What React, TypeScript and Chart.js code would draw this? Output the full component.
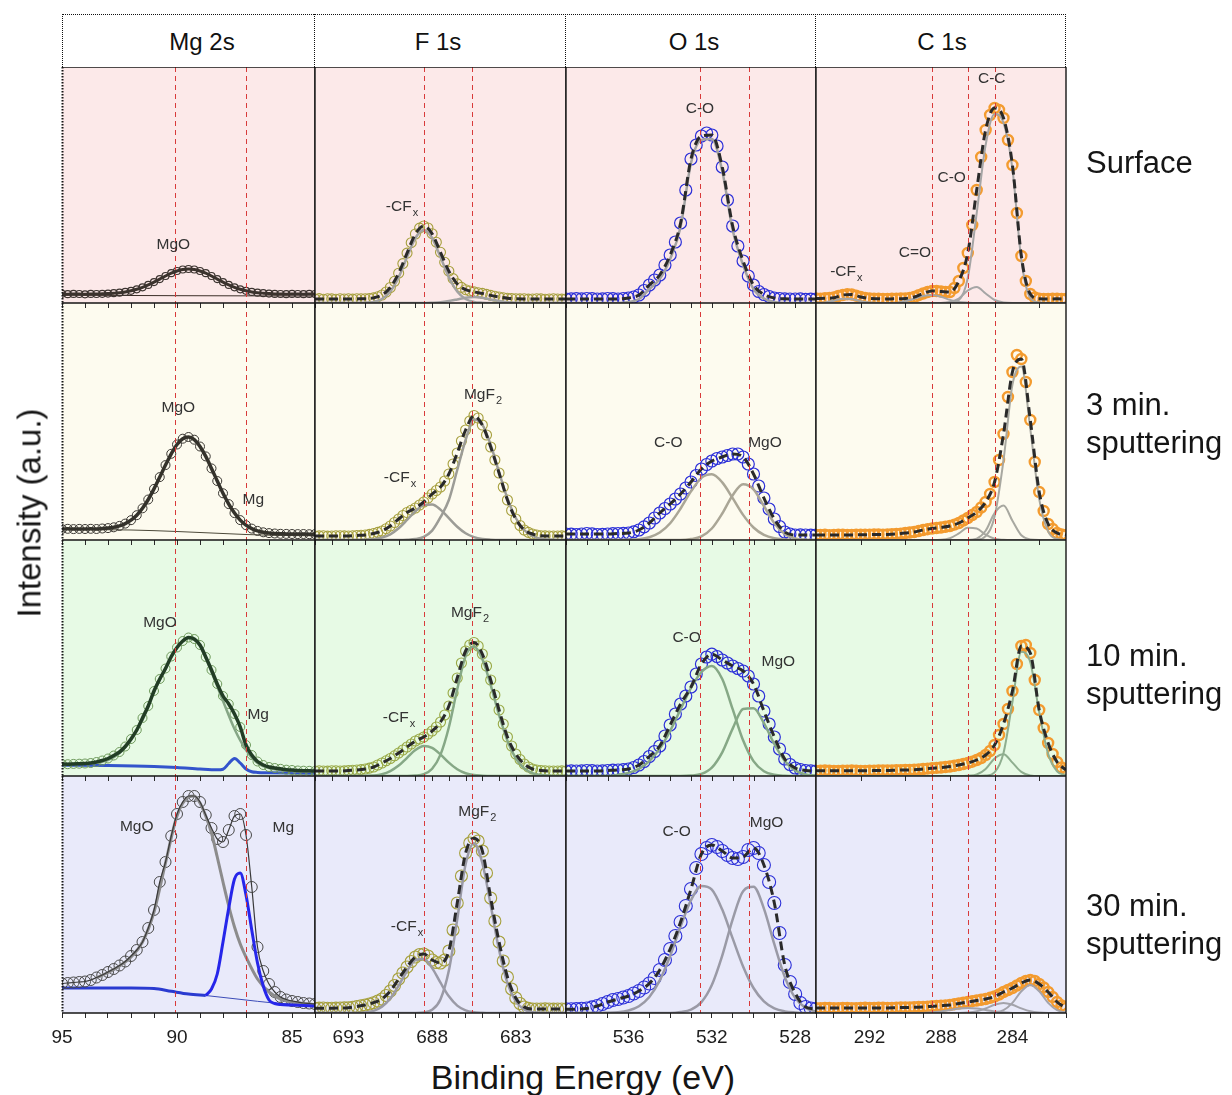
import React, { useEffect, useRef } from 'react';
import { Chart, registerables } from 'chart.js';

Chart.register(...registerables);

const FONT = '"Liberation Sans", Arial, Helvetica, sans-serif';

// ---------------------------------------------------------------------------
// Binding-energy grids (eV): measured points (fine) and fitted curves (coarse)
// ---------------------------------------------------------------------------
const MG2S_BE = [95, 94.75, 94.5, 94.25, 94, 93.75, 93.5, 93.25, 93, 92.75, 92.5, 92.25, 92, 91.75, 91.5, 91.25, 91, 90.75, 90.5, 90.25, 90, 89.75, 89.5, 89.25, 89, 88.75, 88.5, 88.25, 88, 87.75, 87.5, 87.25, 87, 86.75, 86.5, 86.25, 86, 85.75, 85.5, 85.25, 85, 84.75, 84.5, 84.25, 84];
const F1S_BE = [695, 694.75, 694.5, 694.25, 694, 693.75, 693.5, 693.25, 693, 692.75, 692.5, 692.25, 692, 691.75, 691.5, 691.25, 691, 690.75, 690.5, 690.25, 690, 689.75, 689.5, 689.25, 689, 688.75, 688.5, 688.25, 688, 687.75, 687.5, 687.25, 687, 686.75, 686.5, 686.25, 686, 685.75, 685.5, 685.25, 685, 684.75, 684.5, 684.25, 684, 683.75, 683.5, 683.25, 683, 682.75, 682.5, 682.25, 682, 681.75, 681.5, 681.25, 681, 680.75, 680.5, 680.25, 680];
const F1S_FIT_BE = [695, 694.5, 694, 693.5, 693, 692.5, 692, 691.5, 691, 690.5, 690, 689.5, 689, 688.5, 688, 687.5, 687, 686.5, 686, 685.5, 685, 684.5, 684, 683.5, 683, 682.5, 682, 681.5, 681, 680.5, 680];
const O1S_BE = [539, 538.75, 538.5, 538.25, 538, 537.75, 537.5, 537.25, 537, 536.75, 536.5, 536.25, 536, 535.75, 535.5, 535.25, 535, 534.75, 534.5, 534.25, 534, 533.75, 533.5, 533.25, 533, 532.75, 532.5, 532.25, 532, 531.75, 531.5, 531.25, 531, 530.75, 530.5, 530.25, 530, 529.75, 529.5, 529.25, 529, 528.75, 528.5, 528.25, 528, 527.75, 527.5, 527.25, 527];
const O1S_FIT_BE = [539, 538.5, 538, 537.5, 537, 536.5, 536, 535.5, 535, 534.5, 534, 533.5, 533, 532.5, 532, 531.5, 531, 530.5, 530, 529.5, 529, 528.5, 528, 527.5, 527];
const C1S_BE = [295, 294.75, 294.5, 294.25, 294, 293.75, 293.5, 293.25, 293, 292.75, 292.5, 292.25, 292, 291.75, 291.5, 291.25, 291, 290.75, 290.5, 290.25, 290, 289.75, 289.5, 289.25, 289, 288.75, 288.5, 288.25, 288, 287.75, 287.5, 287.25, 287, 286.75, 286.5, 286.25, 286, 285.75, 285.5, 285.25, 285, 284.75, 284.5, 284.25, 284, 283.75, 283.5, 283.25, 283, 282.75, 282.5, 282.25, 282, 281.75, 281.5, 281.25, 281];
const C1S_FIT_BE = [295, 294.5, 294, 293.5, 293, 292.5, 292, 291.5, 291, 290.5, 290, 289.5, 289, 288.5, 288, 287.5, 287, 286.5, 286, 285.5, 285, 284.5, 284, 283.5, 283, 282.5, 282, 281.5, 281];

// Axis ticks and labelled ticks
const MG2S_TICKS = [95, 94, 93, 92, 91, 90, 89, 88, 87, 86, 85, 84];
const MG2S_TICK_LABELS = [95, 90, 85];
const F1S_TICKS = [695, 694, 693, 692, 691, 690, 689, 688, 687, 686, 685, 684, 683, 682, 681, 680];
const F1S_TICK_LABELS = [693, 688, 683];
const O1S_TICKS = [539, 538, 537, 536, 535, 534, 533, 532, 531, 530, 529, 528, 527];
const O1S_TICK_LABELS = [536, 532, 528];
const C1S_TICKS = [295, 294, 293, 292, 291, 290, 289, 288, 287, 286, 285, 284, 283, 282, 281];
const C1S_TICK_LABELS = [292, 288, 284];
const C1S_TOP_TICKS = [292.5, 290, 287.5, 285, 282.5];

// Reference binding energies (dashed guides)
const MG2S_REF = [90.1, 87.0];
const F1S_REF = [688.5, 685.6];
const O1S_REF = [532.55, 530.2];
const C1S_REF = [288.5, 286.5, 284.95];

// ---------------------------------------------------------------------------
// Mg 2s
// ---------------------------------------------------------------------------
const MG2S_SURFACE = [9.2, 8.8, 9.1, 9.0, 8.7, 9.1, 9.0, 9.2, 9.4, 9.8, 10.3, 11.1, 12.2, 13.7, 15.7, 18.1, 20.9, 23.9, 27.0, 29.8, 32.0, 33.5, 34.0, 33.5, 32.0, 29.8, 27.0, 23.9, 20.9, 18.1, 15.7, 13.7, 12.2, 11.1, 10.3, 9.8, 9.4, 9.1, 9.0, 8.8, 9.1, 9.0, 8.8, 9.1, 9.0];
const MG2S_SURFACE_BG_BE = [95, 90, 84];
const MG2S_SURFACE_BG = [7.8, 7.3, 7];

const MG2S_3MIN = [11, 11.2, 10.9, 11.1, 11, 11.2, 11, 11.5, 11.9, 12.7, 14.1, 16.4, 19.8, 24.8, 31.7, 40.5, 51.1, 62.9, 74.9, 86.2, 95.5, 101.3, 103, 100.3, 93.5, 83.6, 71.6, 59, 46.7, 35.9, 26.9, 19.9, 14.8, 11.4, 9.1, 7.7, 6.9, 6.5, 6.2, 6.1, 6, 5.9, 6, 5.8, 5.9];
const MG2S_3MIN_BG_BE = [95, 92, 90, 89, 88, 87, 86, 84];
const MG2S_3MIN_BG = [10.5, 10, 8.5, 7.5, 6.5, 5.5, 4.8, 4.2];

const MG2S_10MIN = [12, 11.8, 12.1, 12.3, 12.5, 13, 14, 15.5, 17.5, 20.5, 24, 29.5, 37, 46, 58, 70, 85, 97, 107.5, 119.5, 128.5, 135, 138.5, 137, 131, 119, 106, 92, 80, 72, 62, 49, 31, 21, 14.5, 11, 9, 8, 7.2, 6.3, 6, 5.5, 5.3, 5.2, 5];
const MG2S_10MIN_MGO_BE = [95, 94, 93, 92.5, 92, 91.5, 91, 90.5, 90, 89.5, 89, 88.5, 88, 87.5, 87, 86.5, 86, 85.5, 85, 84];
const MG2S_10MIN_MGO = [12, 12.4, 16, 23, 36, 56, 84, 107, 128, 138, 130, 104, 75, 47, 26, 13, 8, 6, 5, 4.5];
const MG2S_10MIN_MG_BE = [95, 93, 91, 90, 89, 88.25, 88, 87.75, 87.5, 87.25, 87, 86.75, 86.5, 86, 85, 84];
const MG2S_10MIN_MG = [10.8, 10.5, 9.6, 8.6, 7, 6.2, 6.8, 12.5, 17.5, 13, 7, 4.2, 3.6, 3.3, 3, 2.8];

const MG2S_30MIN = [29.5, 30, 30.5, 31, 31.5, 33, 35.5, 38, 41, 44, 47.5, 51.5, 57, 63, 71, 85, 103, 131, 151, 177, 199, 211, 217, 217, 211, 198, 185, 174, 171, 183, 197, 199, 178, 126, 66, 42, 29, 21, 16, 13.5, 12, 11, 10, 9.5, 9];
const MG2S_30MIN_MGO_BE = [93.5, 93, 92.5, 92, 91.5, 91, 90.5, 90, 89.5, 89.25, 89, 88.75, 88.5, 88.25, 88, 87.75, 87.5, 87.25, 87, 86.5, 86, 85.5, 85, 84.5, 84];
const MG2S_30MIN_MGO = [35, 40.5, 47, 56, 71, 101, 150, 197, 216, 217, 210, 197, 180, 156, 131, 107, 86, 69, 56, 34, 21, 14, 11, 9.5, 8.5];
const MG2S_30MIN_MG_BE = [88.75, 88.5, 88.25, 88, 87.75, 87.5, 87.25, 87, 86.75, 86.5, 86.25, 86, 85.75, 85.5, 85, 84.5, 84];
const MG2S_30MIN_MG = [17.5, 24, 39, 71, 105, 134, 140, 118, 83, 50, 27, 13, 9.5, 8.5, 8, 7.5, 7];
const MG2S_30MIN_BG_BE = [95, 92, 91, 90.25, 89.5, 88.75];
const MG2S_30MIN_BG = [25, 25, 24.5, 21.7, 19, 17.5];
const MG2S_30MIN_BG2_BE = [88.75, 87, 86, 85, 84];
const MG2S_30MIN_BG2 = [17.5, 13, 10.5, 9, 8];

// ---------------------------------------------------------------------------
// F 1s
// ---------------------------------------------------------------------------
const F1S_SURFACE = [4.0, 4.4, 3.8, 4.2, 4.1, 3.8, 4.3, 4.0, 4.2, 3.9, 4.3, 4.2, 4.3, 4.5, 5.1, 6.2, 8.0, 11.0, 15.5, 21.7, 29.8, 39.4, 49.9, 60.3, 69, 74.9, 77, 75, 69.3, 60.8, 50.7, 40.7, 31.8, 24.4, 19.1, 15.6, 13.3, 12, 11.1, 10.3, 9.6, 8.6, 7.6, 6.7, 6.0, 5.3, 4.8, 4.5, 4.3, 4.1, 4.2, 3.9, 4.0, 4.3, 4.1, 3.8, 4.0, 4.2, 4.0, 3.9, 4.0];
const F1S_SURFACE_FIT = [4, 4, 4, 4, 4, 4.1, 4.3, 5.1, 8, 15.5, 29.8, 49.9, 69, 77, 69.3, 50.7, 31.8, 19.1, 13.3, 11.1, 9.6, 7.6, 6, 4.8, 4.3, 4.1, 4, 4, 4, 4, 4];
const F1S_SURFACE_CF = [0, 0, 0, 0, 0, 0, 0.3, 1.1, 4, 11.5, 25.8, 45.9, 65, 73, 65, 45.9, 25.8, 11.5, 4, 1.1, 0.3, 0, 0, 0, 0, 0, 0, 0, 0, 0, 0];
const F1S_SURFACE_MGF = [0, 0, 0, 0, 0, 0, 0, 0, 0, 0, 0, 0, 0, 0, 0.3, 0.8, 2, 3.6, 5.3, 6, 5.3, 3.6, 2, 0.8, 0.3, 0, 0, 0, 0, 0, 0];

const F1S_3MIN = [4, 4.1, 4.2, 3.9, 4, 4.2, 4.3, 4.1, 4, 4.2, 4.5, 4.7, 5, 5.6, 6.5, 7.6, 9, 11.3, 14, 17.5, 21, 24.5, 27.5, 29.8, 32, 35, 38, 42, 46, 49.5, 53, 59, 66, 76, 87, 99, 110, 119, 124.5, 122, 115, 105, 93, 80, 67, 53, 40, 29.5, 21, 14.5, 10, 7.6, 6, 5, 4.2, 4.1, 4, 4, 4, 4.1, 4];
const F1S_3MIN_FIT = [4, 4, 4, 4, 4, 4.5, 5, 6.5, 9, 14, 21, 27.5, 32, 38, 46, 53, 66, 87, 110, 124, 115, 93, 67, 40, 21, 10, 6, 4.2, 4, 4, 4];
const F1S_3MIN_CF = [0, 0, 0, 0, 0, 0, 0.2, 0.8, 2.4, 5.7, 11.7, 20, 28.8, 34.9, 35.5, 30.4, 21.8, 13.2, 6.7, 2.9, 1, 0.3, 0, 0, 0, 0, 0, 0, 0, 0, 0];
const F1S_3MIN_MGF = [0, 0, 0, 0, 0, 0, 0, 0, 0, 0, 0, 0.2, 0.9, 3.2, 9.4, 22.8, 40, 70, 100, 120.5, 115.4, 95.2, 67.8, 41.6, 22, 10, 4, 1.3, 0.4, 0, 0];

const F1S_10MIN = [5, 5.2, 5, 4.9, 5.3, 5.2, 5, 5.1, 5.5, 5.8, 6, 6.4, 7, 7.9, 9, 11, 13, 15.2, 17.5, 20.2, 23, 26, 29, 32, 35, 37, 39, 42, 45, 49, 54, 61, 70, 83, 98, 113, 125, 131, 133.5, 130, 122, 110, 96, 81, 66, 52, 39, 30, 22, 16.5, 12, 9, 7, 6, 5.5, 5.2, 5, 5, 5, 5.1, 5];
const F1S_10MIN_FIT = [5, 5, 5, 5, 5.5, 6, 7, 9, 13, 17.5, 23, 29, 35, 39, 45, 54, 70, 98, 125, 133.5, 122, 96, 66, 39, 22, 12, 7, 5.5, 5, 5, 5];
const F1S_10MIN_CF = [0, 0, 0, 0, 0, 0, 0, 0.5, 1.8, 4.9, 10.4, 18.2, 25.9, 29.9, 28.1, 21.5, 13.4, 6.8, 2.8, 0.9, 0.3, 0, 0, 0, 0, 0, 0, 0, 0, 0, 0];
const F1S_10MIN_MGF = [0, 0, 0, 0, 0, 0, 0, 0, 0, 0, 0, 0, 0.4, 1.9, 7.3, 21.4, 48.8, 86.7, 120, 129.5, 116.9, 90.9, 61, 35.3, 17.6, 7.6, 2.8, 0.9, 0.3, 0, 0];

const F1S_30MIN = [4.7, 4.9, 5, 4.8, 4.7, 4.9, 5, 5.1, 5.3, 5.8, 6.5, 7.2, 8, 9, 10.3, 12, 14, 17.5, 22, 27.5, 34, 40, 46, 51.5, 56, 58.5, 59, 57, 53, 50.5, 50, 53, 62, 83, 110, 137, 160, 170, 174.7, 172, 162, 140, 115, 92, 71, 52, 36, 24, 15, 9.5, 6, 4.6, 4, 4, 4, 4.1, 4, 3.9, 4, 4, 4];
const F1S_30MIN_FIT = [4.8, 4.8, 4.8, 5, 5.3, 6.5, 8, 10.3, 14, 22, 34, 46, 56, 59, 53, 50, 62, 110, 160, 174.7, 162, 115, 71, 36, 15, 6, 4, 4, 4, 4, 4];
const F1S_30MIN_CF = [0, 0, 0, 0, 0, 0, 0.6, 2.1, 6.2, 14.4, 27.4, 42, 53, 54.1, 44.9, 30.3, 16.7, 7.4, 2.7, 0.8, 0.2, 0, 0, 0, 0, 0, 0, 0, 0, 0, 0];
const F1S_30MIN_MGF = [0, 0, 0, 0, 0, 0, 0, 0, 0, 0, 0, 0, 0, 0.5, 3.2, 13.8, 42.4, 93.7, 148.7, 169.8, 150, 107.8, 63, 30, 11.6, 3.6, 0.9, 0.2, 0, 0, 0];

// ---------------------------------------------------------------------------
// O 1s
// ---------------------------------------------------------------------------
const O1S_SURFACE = [4, 4.2, 4.3, 4.1, 4.5, 4.4, 4, 4.2, 4.5, 4.3, 4, 4.5, 5, 6, 8, 12.5, 18, 23, 28, 38, 48, 61, 80, 113, 144, 158, 167, 170, 168, 157, 136, 103, 77, 57, 42, 27, 18, 11.5, 8.5, 6.5, 5, 4.5, 4.2, 4, 4, 4.2, 3.6, 3.8, 4];
const O1S_SURFACE_FIT = [4, 4, 4, 4, 4, 4, 5, 8, 18, 28, 48, 80, 144, 167, 168, 136, 77, 42, 18, 8.5, 5, 4.2, 4, 4, 4];
const O1S_SURFACE_CO = [0, 0, 0, 0, 0, 0, 1, 4, 14, 24, 44, 76, 140, 163, 164, 132, 73, 38, 14, 4.5, 1, 0, 0, 0, 0];

const O1S_3MIN = [6, 5.8, 5.5, 6, 6.5, 6.2, 5.5, 5.7, 6, 6.3, 6.5, 6.6, 7, 8.2, 10, 13.2, 17, 22, 27, 31.5, 36, 41, 46, 52, 58, 64.5, 71, 75.5, 79, 81.5, 83, 84.5, 86, 86, 83, 76, 66, 54, 42, 31, 21, 13.5, 8, 6, 5, 5.2, 5, 4.8, 5];
const O1S_3MIN_FIT = [6, 6, 6, 6, 6, 6.5, 7, 10, 17, 27, 36, 46, 58, 71, 79, 83, 86, 83, 66, 42, 21, 8, 5, 5, 5];
const O1S_3MIN_CO = [0, 0, 0, 0, 0, 0, 0.2, 0.8, 2.8, 7.5, 16.8, 31.5, 48.6, 62.1, 65.7, 57.6, 41.8, 25.1, 12.5, 5.1, 1.7, 0.5, 0, 0, 0];
const O1S_3MIN_MGO = [0, 0, 0, 0, 0, 0, 0, 0, 0, 0, 0, 0, 0.9, 3.7, 11.5, 26.5, 44.8, 55.7, 50.7, 34, 16.7, 6, 1.6, 0.3, 0];

const O1S_10MIN = [5, 5.2, 5, 5.1, 5.5, 5.3, 5, 5.2, 5.5, 5.8, 6, 6.4, 7, 8.5, 11, 14.5, 19.5, 24.5, 30, 40, 51, 62, 72, 80, 89, 102, 112, 119, 121.8, 119.5, 116, 113, 110, 107.5, 105, 100, 92, 80, 65, 52, 39, 27, 17, 11.5, 8, 6.5, 5.5, 5.2, 5];
const O1S_10MIN_FIT = [5, 5, 5, 5, 5.5, 6, 7, 11, 19.5, 30, 51, 72, 89, 112, 121.8, 116, 110, 105, 92, 65, 39, 17, 8, 5.5, 5];
const O1S_10MIN_CO = [0, 0, 0, 0, 0, 1.2, 3.1, 7.2, 14.9, 27.4, 45.2, 66.7, 88, 104, 110, 97, 66.8, 35.7, 14.9, 4.8, 1.2, 0.2, 0, 0, 0];
const O1S_10MIN_MGO = [0, 0, 0, 0, 0, 0, 0, 0, 0, 0, 0, 0, 0.4, 2.1, 8.4, 23.7, 47.4, 67, 67.8, 52.8, 32, 15.1, 5.6, 1.6, 0.4];

const O1S_30MIN = [3.7, 3.8, 3.9, 4.2, 4.5, 5.6, 7, 9, 11, 13, 14, 15.5, 17, 19.5, 22, 25.5, 29.5, 35, 43, 53, 64, 77, 91, 107, 124, 145, 159, 165, 168, 166, 162, 158, 155, 154, 156, 163, 165, 160, 148, 131, 110, 80, 48, 31, 19, 10, 6, 4.5, 4];
const O1S_30MIN_FIT = [3.7, 3.9, 4.5, 7, 11, 14, 17, 22, 29.5, 43, 64, 91, 124, 159, 168, 162, 155, 156, 165, 148, 110, 48, 20, 6, 4];
const O1S_30MIN_CO = [0, 0, 0, 0, 0.2, 0.7, 2.5, 6.8, 16, 32.6, 57.2, 86.5, 112.9, 127, 123.4, 103.4, 74.6, 46.5, 25, 11.6, 4.6, 1.6, 0.5, 0, 0];
const O1S_30MIN_MGO = [0, 0, 0, 0, 0, 0, 0, 0, 0, 0, 0, 0.9, 3.4, 10.9, 28, 57.4, 93.7, 121.8, 126.3, 104.4, 68.8, 36.1, 15.1, 5.1, 1.3];

// ---------------------------------------------------------------------------
// C 1s
// ---------------------------------------------------------------------------
const C1S_SURFACE = [4.5, 4.4, 4.7, 5, 5.6, 7, 8, 8.7, 8.5, 7.3, 6, 5, 4.5, 4.3, 4.2, 4.1, 4, 4.2, 4.3, 4.5, 4.6, 5, 6, 7.8, 9.5, 11, 12, 12, 11.5, 11, 11, 15, 22, 35, 50, 78, 113, 146, 173, 188, 195, 193, 185, 163, 138, 90, 47, 22, 9, 5.5, 4.2, 4.1, 4, 4.2, 4.3, 4.1, 4];
const C1S_SURFACE_FIT = [4.5, 4.7, 5.2, 8, 8.5, 6, 4.5, 4.2, 4, 4.3, 4.6, 6, 9.5, 12, 11.5, 11, 22, 50, 113, 173, 195, 185, 138, 47, 9, 4.2, 4, 4.2, 4];
const C1S_SURFACE_CC = [0, 0, 0, 0, 0, 0, 0, 0, 0, 0, 0, 0, 0, 0, 0, 0.5, 3, 25, 90, 158, 189, 180, 134, 43, 5, 0.5, 0, 0, 0];
const C1S_SURFACE_CO = [0, 0, 0, 0, 0, 0, 0, 0, 0, 0, 0, 0, 0, 0, 0, 1, 4.5, 12.5, 16, 9.5, 3, 0.5, 0, 0, 0, 0, 0, 0, 0];
const C1S_SURFACE_C2O = [0, 0, 0, 0, 0, 0, 0, 0, 0, 0, 1.8, 4.2, 7, 8, 6.3, 3.1, 1, 0.3, 0, 0, 0, 0, 0, 0, 0, 0, 0, 0, 0];
const C1S_SURFACE_CF = [0, 0.6, 2.3, 4.3, 4, 1.8, 0.4, 0, 0, 0, 0, 0, 0, 0, 0, 0, 0, 0, 0, 0, 0, 0, 0, 0, 0, 0, 0, 0, 0];

const C1S_3MIN = [5, 5.1, 5.2, 4.9, 5, 5.2, 5.3, 5.1, 5, 5.3, 5.2, 5.2, 5.4, 5.5, 5.5, 5.4, 5.6, 5.8, 6, 6.4, 7, 7.5, 8, 9, 10, 10.8, 11.5, 12, 12.5, 13.2, 14, 15.4, 17, 19.5, 22, 25, 28, 32.5, 38, 46, 58, 80, 106, 143, 168, 185, 181, 158, 120, 78, 48, 29, 16, 11, 7, 5.5, 5];
const C1S_3MIN_FIT = [5, 5, 5, 5, 5, 5.2, 5.4, 5.5, 5.6, 6, 7, 8, 10, 11.5, 12.5, 14, 17, 22, 28, 38, 58, 106, 168, 181, 120, 48, 16, 7, 5];
const C1S_3MIN_CC = [0, 0, 0, 0, 0, 0, 0, 0, 0, 0, 0, 0, 0, 0, 0, 0, 0, 0, 0.4, 3.9, 23.4, 79.6, 155.3, 173.6, 111.2, 40.8, 8.6, 1, 0];
const C1S_3MIN_CO = [0, 0, 0, 0, 0, 0, 0, 0, 0, 0, 0, 0, 0, 0, 0, 0, 0, 0, 1.4, 9.2, 26.9, 34.4, 19.3, 4.7, 0.5, 0, 0, 0, 0];
const C1S_3MIN_C2O = [0, 0, 0, 0, 0, 0, 0, 0, 0, 0, 0, 0, 0, 0, 0.2, 1.8, 6.6, 12.3, 11.5, 5.3, 1.2, 0.2, 0, 0, 0, 0, 0, 0, 0];

const C1S_10MIN = [5, 5.2, 5.5, 5.3, 5, 5, 5.3, 5.4, 5.5, 5.2, 5, 5.1, 5.3, 5.4, 5.5, 5.6, 5.5, 5.6, 5.8, 5.9, 6, 6.1, 6.3, 6.6, 7, 7.4, 7.8, 8.1, 8.5, 9, 9.5, 10.2, 11, 12, 13, 14.3, 16, 18, 21, 25, 31, 41, 52, 67, 85, 112, 130, 131, 123, 96, 66, 48, 33, 22, 14, 8.5, 6];
const C1S_10MIN_FIT = [5.2, 5.2, 5.2, 5.2, 5.2, 5.2, 5.3, 5.5, 5.5, 5.8, 6, 6.3, 7, 7.8, 8.5, 9.5, 11, 13, 16, 21, 31, 52, 85, 130, 123, 66, 33, 14, 6];
const C1S_10MIN_CC = [0, 0, 0, 0, 0, 0, 0, 0, 0, 0, 0, 0, 0, 0, 0, 0, 0, 0, 0, 0.4, 3.7, 23, 74, 124.3, 113.8, 63.7, 22.1, 4.7, 0.6];
const C1S_10MIN_CO = [0, 0, 0, 0, 0, 0, 0, 0, 0, 0, 0, 0, 0, 0, 0, 0, 0, 0.3, 1.5, 7.1, 17.6, 21.7, 13.4, 4.1, 0.6, 0, 0, 0, 0];

const C1S_30MIN = [4.7, 4.9, 5, 5.1, 4.7, 4.8, 5, 5.1, 4.8, 4.9, 5, 5.2, 5, 5, 5.2, 5.3, 5, 5.1, 5.4, 5.6, 5.5, 5.6, 5.8, 6.1, 6, 6.4, 6.8, 7.1, 7.3, 7.6, 8, 8.8, 9.5, 10.2, 11, 11.8, 12.5, 13.2, 14, 15.2, 16.5, 18.5, 21, 23, 25, 27.5, 30, 32, 33, 32, 29, 25.5, 21, 16, 11, 7.5, 5];
const C1S_30MIN_FIT = [4.9, 4.9, 4.9, 4.9, 4.9, 5, 5, 5.1, 5.1, 5.3, 5.5, 5.8, 6, 6.8, 7.3, 8, 9.5, 11, 12.5, 14, 16.5, 21, 25, 30, 33, 29, 21, 11, 5];
const C1S_30MIN_CC = [0, 0, 0, 0, 0, 0, 0, 0, 0, 0, 0, 0, 0, 0, 0, 0, 0, 0, 0, 0, 0.5, 2.8, 10.1, 21.7, 28, 21.7, 10.1, 2.8, 0.5];
const C1S_30MIN_CO = [0, 0, 0, 0, 0, 0, 0, 0, 0, 0, 0, 0, 0, 0, 0, 0, 0, 0.4, 1.7, 4.6, 8.2, 10, 8.2, 4.6, 1.7, 0.4, 0, 0, 0];
const C1S_30MIN_C2O = [0, 0, 0, 0, 0, 0, 0, 0, 0, 0, 0, 0, 0, 0.7, 1.6, 3, 4.4, 5, 4.4, 3, 1.6, 0.7, 0, 0, 0, 0, 0, 0, 0];

// ---------------------------------------------------------------------------
// Layout of the 4 x 4 grid
// ---------------------------------------------------------------------------
const CORE_LEVELS = ['Mg 2s', 'F 1s', 'O 1s', 'C 1s'];
const CORE_LEVEL_CENTERS = [202, 438, 694, 942];
const STAGES = [['Surface'], ['3 min.', 'sputtering'], ['10 min.', 'sputtering'], ['30 min.', 'sputtering']];
const STAGE_CENTERS = [163, 424, 675, 925];

const PAD = 24;
const AXIS_H = 44;

type Row = { top: number; height: number; fill: string };
const ROWS: Row[] = [
  { top: 67, height: 236, fill: '#fce9e9' },
  { top: 303, height: 237, fill: '#fdfbef' },
  { top: 540, height: 236, fill: '#e7fae5' },
  { top: 776, height: 237, fill: '#e9eafa' },
];

type Col = {
  left: number; width: number; min: number; max: number;
  ticks: number[]; tickLabels: number[]; topTicks: number[]; refs: number[];
};
const COLS: Col[] = [
  { left: 62, width: 253, min: 84, max: 95, ticks: MG2S_TICKS, tickLabels: MG2S_TICK_LABELS, topTicks: MG2S_TICKS, refs: MG2S_REF },
  { left: 315, width: 251, min: 680, max: 695, ticks: F1S_TICKS, tickLabels: F1S_TICK_LABELS, topTicks: F1S_TICKS, refs: F1S_REF },
  { left: 566, width: 250, min: 527, max: 539, ticks: O1S_TICKS, tickLabels: O1S_TICK_LABELS, topTicks: O1S_TICKS, refs: O1S_REF },
  { left: 816, width: 250, min: 281, max: 295, ticks: C1S_TICKS, tickLabels: C1S_TICK_LABELS, topTicks: C1S_TOP_TICKS, refs: C1S_REF },
];

type Style =
  | { kind: 'line'; color: string; width: number; dash?: number[] }
  | { kind: 'marks'; color: string; radius: number; width: number };
type Series = { x: number[]; y: number[]; style: Style };
type Label = { text: string; sub?: string; be: number; h: number };
type PanelSpec = { row: number; col: number; series: Series[]; labels: Label[] };

const solid = (color: string, width: number): Style => ({ kind: 'line', color, width });
const dashed = (color: string, width = 3): Style => ({ kind: 'line', color, width, dash: [9, 5] });
const marks = (color: string, radius: number, width: number): Style => ({ kind: 'marks', color, radius, width });

const FIT = dashed('#2a2a2a');
const GREY = solid('#a2a2a2', 2.5);
const OLIVE = marks('#a69f3c', 5, 1.1);
const BLUE = marks('#2b2fd8', 6, 1.2);
const ORANGE = marks('#f39b2f', 5, 2.4);

// Series are listed top-most first.
const PANELS: PanelSpec[] = [
  // Surface
  {
    row: 0, col: 0,
    series: [
      { x: MG2S_BE, y: MG2S_SURFACE, style: marks('#3c3430', 3.5, 1.2) },
      { x: MG2S_BE, y: MG2S_SURFACE, style: solid('#3b332d', 3) },
      { x: MG2S_SURFACE_BG_BE, y: MG2S_SURFACE_BG, style: solid('#3b2e27', 1) },
    ],
    labels: [{ text: 'MgO', be: 90.16, h: 58 }],
  },
  {
    row: 0, col: 1,
    series: [
      { x: F1S_FIT_BE, y: F1S_SURFACE_FIT, style: FIT },
      { x: F1S_FIT_BE, y: F1S_SURFACE_CF, style: GREY },
      { x: F1S_FIT_BE, y: F1S_SURFACE_MGF, style: GREY },
      { x: F1S_BE, y: F1S_SURFACE, style: OLIVE },
    ],
    labels: [{ text: '-CF', sub: 'x', be: 689.8, h: 96 }],
  },
  {
    row: 0, col: 2,
    series: [
      { x: O1S_FIT_BE, y: O1S_SURFACE_FIT, style: FIT },
      { x: O1S_FIT_BE, y: O1S_SURFACE_CO, style: GREY },
      { x: O1S_BE, y: O1S_SURFACE, style: BLUE },
    ],
    labels: [{ text: 'C-O', be: 532.57, h: 194 }],
  },
  {
    row: 0, col: 3,
    series: [
      { x: C1S_FIT_BE, y: C1S_SURFACE_FIT, style: FIT },
      { x: C1S_FIT_BE, y: C1S_SURFACE_CC, style: solid('#a5a5a5', 2) },
      { x: C1S_FIT_BE, y: C1S_SURFACE_CO, style: solid('#a5a5a5', 2) },
      { x: C1S_FIT_BE, y: C1S_SURFACE_C2O, style: solid('#a5a5a5', 2) },
      { x: C1S_FIT_BE, y: C1S_SURFACE_CF, style: solid('#a5a5a5', 2) },
      { x: C1S_BE, y: C1S_SURFACE, style: ORANGE },
    ],
    labels: [
      { text: 'C-C', be: 285.16, h: 224 },
      { text: 'C-O', be: 287.4, h: 125 },
      { text: 'C=O', be: 289.46, h: 50 },
      { text: '-CF', sub: 'x', be: 293.3, h: 31 },
    ],
  },
  // 3 min
  {
    row: 1, col: 0,
    series: [
      { x: MG2S_BE, y: MG2S_3MIN, style: solid('#34322b', 3.5) },
      { x: MG2S_BE, y: MG2S_3MIN, style: marks('#3b3833', 4.5, 1) },
      { x: MG2S_3MIN_BG_BE, y: MG2S_3MIN_BG, style: solid('#4d4a3a', 1) },
    ],
    labels: [
      { text: 'MgO', be: 89.94, h: 132 },
      { text: 'Mg', be: 86.68, h: 40.5 },
    ],
  },
  {
    row: 1, col: 1,
    series: [
      { x: F1S_FIT_BE, y: F1S_3MIN_FIT, style: FIT },
      { x: F1S_FIT_BE, y: F1S_3MIN_CF, style: solid('#9c9c96', 2.5) },
      { x: F1S_FIT_BE, y: F1S_3MIN_MGF, style: solid('#9c9c96', 2.5) },
      { x: F1S_BE, y: F1S_3MIN, style: OLIVE },
    ],
    labels: [
      { text: '-CF', sub: 'x', be: 689.92, h: 62 },
      { text: 'MgF', sub: '2', be: 684.96, h: 145.5 },
    ],
  },
  {
    row: 1, col: 2,
    series: [
      { x: O1S_FIT_BE, y: O1S_3MIN_FIT, style: FIT },
      { x: O1S_FIT_BE, y: O1S_3MIN_CO, style: solid('#aaa696', 2.5) },
      { x: O1S_FIT_BE, y: O1S_3MIN_MGO, style: solid('#aaa696', 2.5) },
      { x: O1S_BE, y: O1S_3MIN, style: BLUE },
    ],
    labels: [
      { text: 'C-O', be: 534.09, h: 97 },
      { text: 'MgO', be: 529.45, h: 97 },
    ],
  },
  {
    row: 1, col: 3,
    series: [
      { x: C1S_FIT_BE, y: C1S_3MIN_FIT, style: FIT },
      { x: C1S_FIT_BE, y: C1S_3MIN_CC, style: solid('#a8a8a0', 2) },
      { x: C1S_FIT_BE, y: C1S_3MIN_CO, style: solid('#a8a8a0', 2) },
      { x: C1S_FIT_BE, y: C1S_3MIN_C2O, style: solid('#a8a8a0', 2) },
      { x: C1S_BE, y: C1S_3MIN, style: ORANGE },
    ],
    labels: [],
  },
  // 10 min
  {
    row: 2, col: 0,
    series: [
      { x: MG2S_BE, y: MG2S_10MIN, style: solid('#223d25', 3.5) },
      { x: MG2S_10MIN_MGO_BE, y: MG2S_10MIN_MGO, style: solid('#86a686', 2.5) },
      { x: MG2S_BE, y: MG2S_10MIN, style: marks('#6f9a5c', 4.5, 1) },
      { x: MG2S_10MIN_MG_BE, y: MG2S_10MIN_MG, style: solid('#3354cc', 3) },
    ],
    labels: [
      { text: 'MgO', be: 90.74, h: 153 },
      { text: 'Mg', be: 86.47, h: 61.5 },
    ],
  },
  {
    row: 2, col: 1,
    series: [
      { x: F1S_FIT_BE, y: F1S_10MIN_FIT, style: FIT },
      { x: F1S_FIT_BE, y: F1S_10MIN_CF, style: solid('#86a886', 2.5) },
      { x: F1S_FIT_BE, y: F1S_10MIN_MGF, style: solid('#86a886', 2.5) },
      { x: F1S_BE, y: F1S_10MIN, style: marks('#98a844', 5, 1.1) },
    ],
    labels: [
      { text: '-CF', sub: 'x', be: 689.98, h: 58 },
      { text: 'MgF', sub: '2', be: 685.74, h: 163 },
    ],
  },
  {
    row: 2, col: 2,
    series: [
      { x: O1S_FIT_BE, y: O1S_10MIN_FIT, style: FIT },
      { x: O1S_FIT_BE, y: O1S_10MIN_CO, style: solid('#86a886', 2.5) },
      { x: O1S_FIT_BE, y: O1S_10MIN_MGO, style: solid('#86a886', 2.5) },
      { x: O1S_BE, y: O1S_10MIN, style: BLUE },
    ],
    labels: [
      { text: 'C-O', be: 533.21, h: 138 },
      { text: 'MgO', be: 528.81, h: 114.5 },
    ],
  },
  {
    row: 2, col: 3,
    series: [
      { x: C1S_FIT_BE, y: C1S_10MIN_FIT, style: FIT },
      { x: C1S_FIT_BE, y: C1S_10MIN_CC, style: solid('#8fae8f', 2) },
      { x: C1S_FIT_BE, y: C1S_10MIN_CO, style: solid('#8fae8f', 2) },
      { x: C1S_BE, y: C1S_10MIN, style: ORANGE },
    ],
    labels: [],
  },
  // 30 min
  {
    row: 3, col: 0,
    series: [
      { x: MG2S_BE, y: MG2S_30MIN, style: solid('#3a3a3a', 1.2) },
      { x: MG2S_30MIN_MG_BE, y: MG2S_30MIN_MG, style: solid('#2626ea', 3) },
      { x: MG2S_30MIN_MGO_BE, y: MG2S_30MIN_MGO, style: solid('#8c8c8c', 3) },
      { x: MG2S_BE, y: MG2S_30MIN, style: marks('#4a4a4a', 5.5, 1) },
      { x: MG2S_30MIN_BG_BE, y: MG2S_30MIN_BG, style: solid('#2a3bd0', 3) },
      { x: MG2S_30MIN_BG2_BE, y: MG2S_30MIN_BG2, style: solid('#3c4cb8', 1) },
    ],
    labels: [
      { text: 'MgO', be: 91.75, h: 186 },
      { text: 'Mg', be: 85.38, h: 185 },
    ],
  },
  {
    row: 3, col: 1,
    series: [
      { x: F1S_FIT_BE, y: F1S_30MIN_FIT, style: FIT },
      { x: F1S_FIT_BE, y: F1S_30MIN_CF, style: solid('#9a9aa6', 2.5) },
      { x: F1S_FIT_BE, y: F1S_30MIN_MGF, style: solid('#9a9aa6', 2.5) },
      { x: F1S_BE, y: F1S_30MIN, style: marks('#a6a03c', 6, 1.1) },
    ],
    labels: [
      { text: '-CF', sub: 'x', be: 689.5, h: 86 },
      { text: 'MgF', sub: '2', be: 685.3, h: 201 },
    ],
  },
  {
    row: 3, col: 2,
    series: [
      { x: O1S_FIT_BE, y: O1S_30MIN_FIT, style: FIT },
      { x: O1S_FIT_BE, y: O1S_30MIN_CO, style: solid('#9a9aa6', 2.5) },
      { x: O1S_FIT_BE, y: O1S_30MIN_MGO, style: solid('#9a9aa6', 2.5) },
      { x: O1S_BE, y: O1S_30MIN, style: marks('#2b2fd8', 6.5, 1.1) },
    ],
    labels: [
      { text: 'C-O', be: 533.69, h: 181 },
      { text: 'MgO', be: 529.37, h: 190 },
    ],
  },
  {
    row: 3, col: 3,
    series: [
      { x: C1S_FIT_BE, y: C1S_30MIN_FIT, style: FIT },
      { x: C1S_FIT_BE, y: C1S_30MIN_CC, style: solid('#a3a3ab', 2) },
      { x: C1S_FIT_BE, y: C1S_30MIN_CO, style: solid('#a3a3ab', 2) },
      { x: C1S_FIT_BE, y: C1S_30MIN_C2O, style: solid('#a3a3ab', 2) },
      { x: C1S_BE, y: C1S_30MIN, style: ORANGE },
    ],
    labels: [],
  },
];

const toPoints = (xs: number[], ys: number[]) => xs.map((x, i) => ({ x, y: ys[i] }));

function drawLabel(ctx: CanvasRenderingContext2D, cx: number, cy: number, lab: Label) {
  const main = `15.5px ${FONT}`;
  const small = `11px ${FONT}`;
  ctx.font = main;
  const wMain = ctx.measureText(lab.text).width;
  let wSub = 0;
  if (lab.sub) {
    ctx.font = small;
    wSub = ctx.measureText(lab.sub).width + 1;
  }
  const x0 = cx - (wMain + wSub) / 2;
  ctx.fillStyle = '#333333';
  ctx.textAlign = 'left';
  ctx.textBaseline = 'middle';
  ctx.font = main;
  ctx.fillText(lab.text, x0, cy);
  if (lab.sub) {
    ctx.font = small;
    ctx.fillText(lab.sub, x0 + wMain + 1, cy + 6);
  }
}

function makeDecor(spec: PanelSpec) {
  const row = ROWS[spec.row];
  const col = COLS[spec.col];
  return {
    id: 'panelDecor',
    beforeDraw(chart: any) {
      const { ctx, chartArea: a } = chart;
      ctx.save();
      ctx.fillStyle = row.fill;
      ctx.fillRect(a.left, a.top, a.right - a.left, a.bottom - a.top);
      ctx.restore();
    },
    afterDatasetsDraw(chart: any) {
      const { ctx, chartArea: a, scales } = chart;
      const xs = scales.x;
      const ys = scales.y;
      ctx.save();
      // dashed guides at the reference binding energies
      ctx.strokeStyle = '#d83a3a';
      ctx.lineWidth = 1;
      ctx.setLineDash([5, 4]);
      for (const be of col.refs) {
        const px = Math.round(xs.getPixelForValue(be)) + 0.5;
        ctx.beginPath();
        ctx.moveTo(px, a.top);
        ctx.lineTo(px, a.bottom);
        ctx.stroke();
      }
      ctx.setLineDash([]);
      // ticks of the axis above, pointing into this panel
      if (spec.row > 0) {
        ctx.strokeStyle = '#2a2a2a';
        ctx.lineWidth = 1;
        for (const v of col.topTicks) {
          const px = Math.round(xs.getPixelForValue(v)) + 0.5;
          ctx.beginPath();
          ctx.moveTo(px, a.top);
          ctx.lineTo(px, a.top + 5);
          ctx.stroke();
        }
      }
      // frame
      ctx.strokeStyle = '#161616';
      ctx.lineWidth = 1.4;
      ctx.beginPath();
      ctx.moveTo(a.left, a.top);
      ctx.lineTo(a.right, a.top);
      ctx.lineTo(a.right, a.bottom);
      ctx.lineTo(a.left, a.bottom);
      if (spec.col > 0) ctx.lineTo(a.left, a.top);
      ctx.stroke();
      if (spec.col === 0) {
        ctx.setLineDash([1.5, 1.5]);
        ctx.lineWidth = 2;
        ctx.beginPath();
        ctx.moveTo(a.left + 0.5, a.top);
        ctx.lineTo(a.left + 0.5, a.bottom);
        ctx.stroke();
        ctx.setLineDash([]);
      }
      // peak annotations
      for (const lab of spec.labels) {
        drawLabel(ctx, xs.getPixelForValue(lab.be), ys.getPixelForValue(lab.h), lab);
      }
      ctx.restore();
    },
  };
}

function Panel({ spec }: { spec: PanelSpec }) {
  const ref = useRef<HTMLCanvasElement | null>(null);
  const row = ROWS[spec.row];
  const col = COLS[spec.col];
  const isBottom = spec.row === ROWS.length - 1;
  const w = col.width + 2 * PAD;
  const h = row.height + (isBottom ? AXIS_H : 0);

  useEffect(() => {
    const canvas = ref.current;
    if (!canvas) return;
    const datasets = spec.series.map((s) => {
      const data = toPoints(s.x, s.y);
      if (s.style.kind === 'marks') {
        return {
          data,
          showLine: false,
          pointStyle: 'circle',
          pointRadius: s.style.radius,
          pointHoverRadius: s.style.radius,
          pointBorderWidth: s.style.width,
          pointBorderColor: s.style.color,
          pointBackgroundColor: 'rgba(0,0,0,0)',
        };
      }
      return {
        data,
        borderColor: s.style.color,
        borderWidth: s.style.width,
        borderDash: s.style.dash ?? [],
        borderCapStyle: 'butt',
        borderJoinStyle: 'round',
        pointRadius: 0,
        fill: false,
        cubicInterpolationMode: 'monotone',
      };
    });

    const chart = new Chart(canvas, {
      type: 'line',
      data: { datasets: datasets as any },
      options: {
        responsive: false,
        animation: false,
        events: [],
        layout: { autoPadding: false, padding: { left: PAD, right: PAD, top: 0, bottom: 0 } },
        plugins: { legend: { display: false }, tooltip: { enabled: false } },
        scales: {
          x: {
            type: 'linear',
            reverse: true,
            min: col.min,
            max: col.max,
            display: isBottom,
            afterBuildTicks: (axis: any) => {
              axis.ticks = col.ticks.map((v) => ({ value: v }));
            },
            afterFit: (axis: any) => {
              if (!isBottom) return;
              axis.height = AXIS_H;
              axis.paddingLeft = 0;
              axis.paddingRight = 0;
            },
            ticks: {
              autoSkip: false,
              maxRotation: 0,
              minRotation: 0,
              padding: 8,
              color: '#1e1e1e',
              font: { family: FONT, size: 19 },
              callback: (v: any) => (col.tickLabels.includes(Number(v)) ? String(v) : ''),
            },
            grid: { display: true, drawOnChartArea: false, drawTicks: true, tickLength: 5, color: '#2a2a2a', lineWidth: 1 },
            border: { display: false },
          },
          y: { type: 'linear', min: 0, max: row.height, display: false },
        },
      } as any,
      plugins: [makeDecor(spec)],
    });
    return () => chart.destroy();
  }, [spec]);

  return (
    <canvas
      ref={ref}
      width={w}
      height={h}
      style={{ position: 'absolute', left: col.left - PAD, top: row.top, width: w, height: h, display: 'block' }}
    />
  );
}

const text = (extra: React.CSSProperties): React.CSSProperties => ({
  position: 'absolute',
  fontFamily: FONT,
  color: '#111',
  whiteSpace: 'nowrap',
  lineHeight: 1,
  ...extra,
});

export default function App() {
  const gridLeft = COLS[0].left;
  const gridRight = COLS[COLS.length - 1].left + COLS[COLS.length - 1].width;
  return (
    <div style={{ position: 'absolute', left: 0, top: 0, width: 1232, height: 1095, background: '#fff', overflow: 'hidden' }}>
      {/* column header strip */}
      <div
        style={{
          position: 'absolute', left: gridLeft, top: 14, width: gridRight - gridLeft, height: 53,
          borderTop: '1.5px dotted #111', borderLeft: '1.5px dotted #111', borderRight: '1.5px dotted #111', boxSizing: 'border-box',
        }}
      />
      {COLS.slice(1).map((c, i) => (
        <div key={`sep${i}`} style={{ position: 'absolute', left: c.left - 1, top: 14, width: 0, height: 53, borderLeft: '1.5px dotted #111' }} />
      ))}
      {CORE_LEVELS.map((t, i) => (
        <div key={t} style={text({ left: CORE_LEVEL_CENTERS[i], top: 42, fontSize: 24, transform: 'translate(-50%, -50%)' })}>{t}</div>
      ))}

      {PANELS.map((p) => (
        <Panel key={`${p.row}-${p.col}`} spec={p} />
      ))}

      {/* sputtering stage labels */}
      {STAGES.map((lines, i) => (
        <div key={i} style={text({ left: 1086, top: STAGE_CENTERS[i], fontSize: 31, lineHeight: '38px', transform: 'translateY(-50%)', color: '#151515' })}>
          {lines.map((l) => (
            <div key={l}>{l}</div>
          ))}
        </div>
      ))}

      {/* axis titles */}
      <div style={text({ left: 583, top: 1077, fontSize: 34, transform: 'translate(-50%, -50%)', color: '#151515' })}>Binding Energy (eV)</div>
      <div style={text({ left: 29, top: 513, fontSize: 33, transform: 'translate(-50%, -50%) rotate(-90deg)', color: '#151515' })}>Intensity (a.u.)</div>
    </div>
  );
}
